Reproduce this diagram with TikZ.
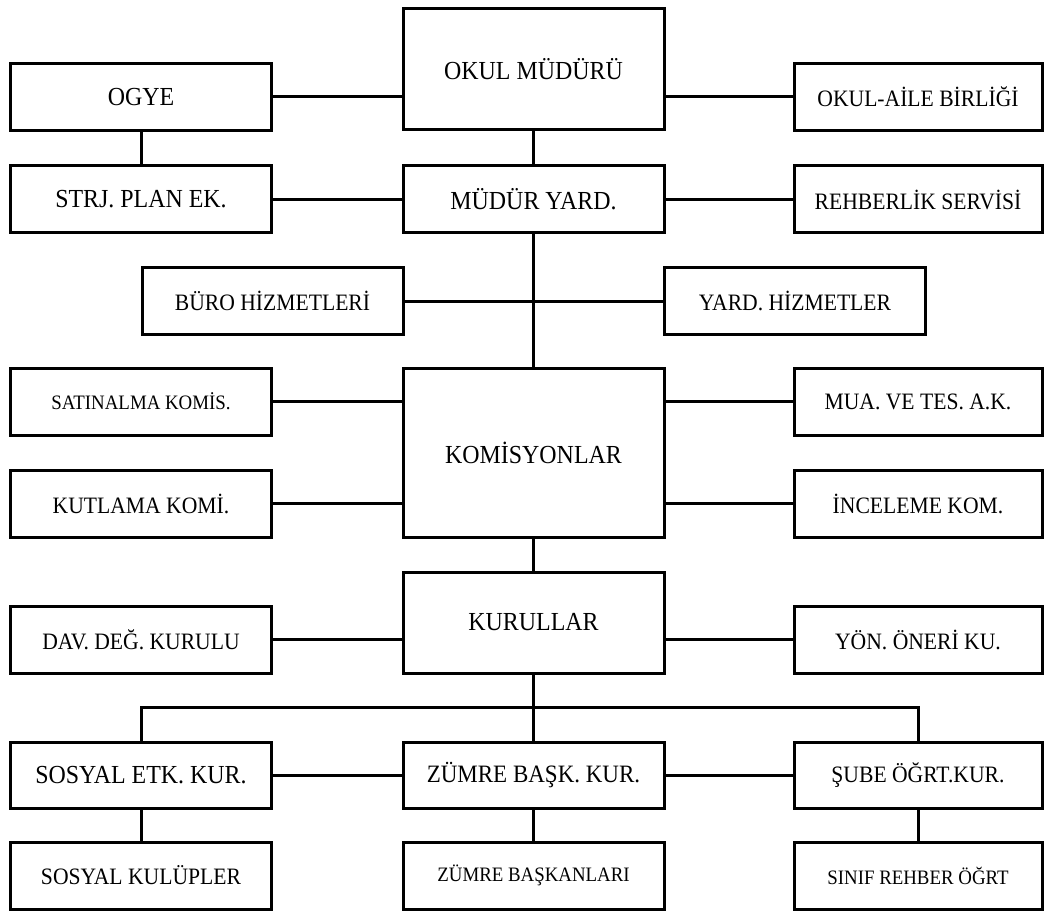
\documentclass[tikz,border=0pt]{standalone}
\usepackage{fontspec}
\setmainfont{Liberation Serif}[FakeStretch=0.92]
\usepackage{tikz}
\usetikzlibrary{positioning}
\tikzset{blk/.style={rectangle,draw,line width=3pt,inner sep=0pt,minimum width=261pt,minimum height=67pt,align=center},
  big/.style={font=\fontsize{26}{30}\selectfont},
  mid/.style={font=\fontsize{23.5}{28}\selectfont},
  sml/.style={font=\fontsize{20.5}{24}\selectfont}}

\begin{document}
\begin{tikzpicture}[x=1pt,y=-1pt,line width=3pt]
    \useasboundingbox (0,0) rectangle (1050,912);

    \node[blk,big,minimum height=121pt] (mudur)at (533.5,69.5) {OKUL MÜDÜRÜ};
    \node[blk,big] (ogye)at (141,97) {OGYE};
    \node[blk,mid,minimum width=248pt] (veli)at (918,97) {OKUL-AİLE BİRLİĞİ};
    \node[blk,big] (strj)at (141,199.5) {STRJ. PLAN EK.};
    \node[blk,big] (yard)at (533.5,199.5) {MÜDÜR YARD.};
    \node[blk,mid,minimum width=248pt] (rehber)at (918,199.5) {REHBERLİK SERVİSİ};

    \node[blk,mid,minimum height=66pt] (buro)at (272.5,301) {BÜRO HİZMETLERİ};
    \node[blk,mid,minimum height=66pt] (yhizmet)at (795,301) {YARD. HİZMETLER};

    \node[blk,sml] (satin)at (141,401.5) {SATINALMA KOMİS.};
    \node[blk,big,minimum height=169pt] (komis)at (533.5,452.5) {KOMİSYONLAR};
    \node[blk,mid,minimum width=248pt] (mua)at (918,401.5) {MUA. VE TES. A.K.};
    \node[blk,mid] (kutlama)at (141,503.5) {KUTLAMA KOMİ.};
    \node[blk,mid,minimum width=248pt] (incele)at (918,503.5) {İNCELEME KOM.};

    \node[blk,big,minimum height=101pt] (kurul)at (533.5,622.5) {KURULLAR};
    \node[blk,mid] (dav)at (141,639.5) {DAV. DEĞ. KURULU};
    \node[blk,mid,minimum width=248pt] (yon)at (918,639.5) {YÖN. ÖNERİ KU.};

    \coordinate (busL) at (141,707);
    \coordinate (busR) at (918,707);

    \node[blk,big,minimum height=66pt] (sosyal)at (141,775) {SOSYAL ETK. KUR.};
    \node[blk,minimum height=66pt,font=\fontsize{25}{29}\selectfont] (zumre)at (533.5,775) {ZÜMRE BAŞK. KUR.};
    \node[blk,mid,minimum height=66pt,minimum width=248pt] (sube)at (918,775) {ŞUBE ÖĞRT.KUR.};
    \node[blk,mid] (kulup)at (141,875.5) {SOSYAL KULÜPLER};
    \node[blk,sml] (zbask)at (533.5,875.5) {ZÜMRE BAŞKANLARI};
    \node[blk,sml,minimum width=248pt] (sinif)at (918,875.5) {SINIF REHBER ÖĞRT};

    \draw [] (ogye) to [] (ogye -| mudur.west);
    \draw [] (mudur.east |- veli) to [] (veli);
    \draw [] (ogye) to [] (strj);
    \draw [] (mudur) to [] (yard);
    \draw [] (strj) to [] (yard);
    \draw [] (yard) to [] (rehber);
    \draw [] (yard) to [] (komis);
    \draw [] (buro) to [] (yhizmet);
    \draw [] (satin) to [] (satin -| komis.west);
    \draw [] (kutlama) to [] (kutlama -| komis.west);
    \draw [] (komis.east |- mua) to [] (mua);
    \draw [] (komis.east |- incele) to [] (incele);
    \draw [] (komis) to [] (kurul);
    \draw [] (dav) to [] (dav -| kurul.west);
    \draw [] (kurul.east |- yon) to [] (yon);
    \draw [] (kurul) to [] (zumre);
    \draw [] (sosyal) -- (busL) -- (busR) -- (sube);
    \draw [] (sosyal) to [] (zumre);
    \draw [] (zumre) to [] (sube);
    \draw [] (sosyal) to [] (kulup);
    \draw [] (zumre) to [] (zbask);
    \draw [] (sube) to [] (sinif);
\end{tikzpicture}
\end{document}
